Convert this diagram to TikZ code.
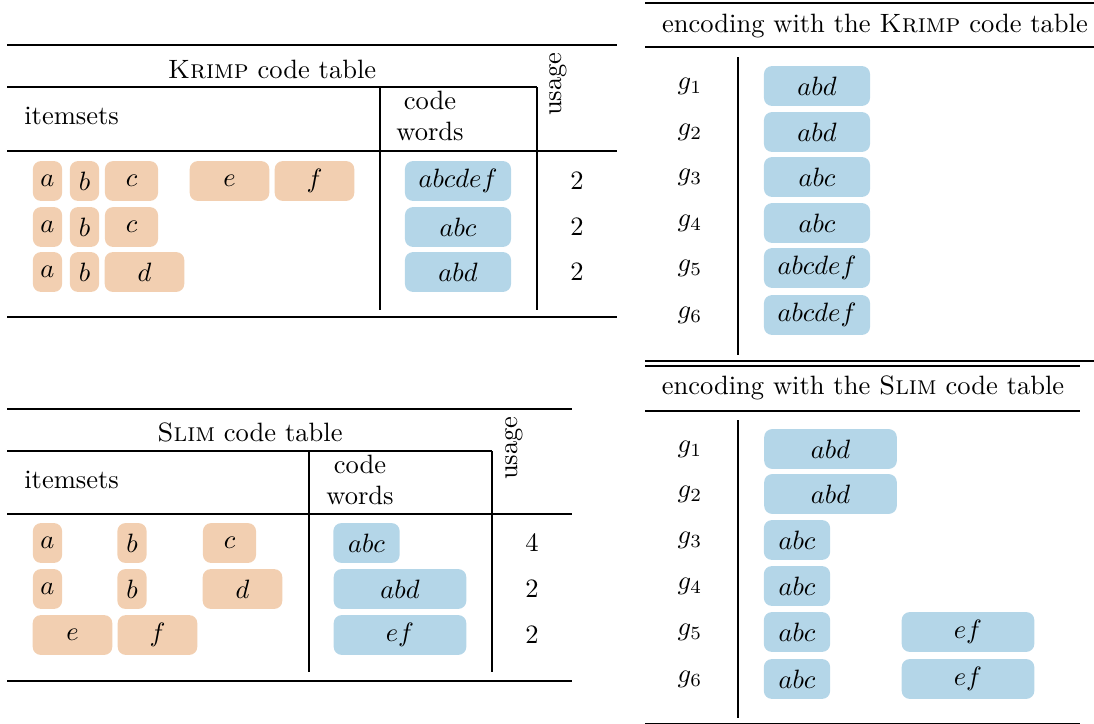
\documentclass[tikz,border=0pt]{standalone}
\usepackage{amsmath}
\usepackage{tikz}

\definecolor{itemfill}{RGB}{242,207,177}
\definecolor{codefill}{RGB}{180,214,232}

\tikzset{
  itembox/.style={fill=itemfill, rounded corners=3pt, inner sep=0pt, minimum height=15pt},
  codebox/.style={fill=codefill, rounded corners=3pt, inner sep=0pt, minimum height=15pt},
  toprule/.style={line width=0.8pt},
  midrule/.style={line width=0.5pt},
  thinrule/.style={line width=0.4pt},
}

\begin{document}
\begin{tikzpicture}[x=0.377pt,y=-0.377pt]
  \useasboundingbox (0,0) rectangle (1094,724);

  % Krimp code table
  \draw[toprule] (7,45) -- (617,45);
  \node (ktitle) at (272,69) {\textsc{Krimp} code table};
  \draw[thinrule] (7,87) -- (537,87);
  \node[rotate=90] (kusage) at (558,84) {usage};
  \node[anchor=west] (kitems) at (15,116) {itemsets};
  \node[align=center] (kwords) at (430,116) {code\\words};
  \draw[midrule] (7,151) -- (617,151);
  \draw[thinrule] (380,87) -- (380,310);
  \draw[thinrule] (537,87) -- (537,310);

  \node[itembox, minimum width=11pt] (ka1) at (47.5,181) {$a$};
  \node[itembox, minimum width=11pt] (kb1) at (84.5,181) {$b$};
  \node[itembox, minimum width=20pt] (kc1) at (131.5,181) {$c$};
  \node[itembox, minimum width=30pt] (ke1) at (229.5,181) {$e$};
  \node[itembox, minimum width=30pt] (kf1) at (314.5,181) {$f$};
  \node[itembox, minimum width=11pt] (ka2) at (47.5,227) {$a$};
  \node[itembox, minimum width=11pt] (kb2) at (84.5,227) {$b$};
  \node[itembox, minimum width=20pt] (kc2) at (131.5,227) {$c$};
  \node[itembox, minimum width=11pt] (ka3) at (47.5,272) {$a$};
  \node[itembox, minimum width=11pt] (kb3) at (84.5,272) {$b$};
  \node[itembox, minimum width=30pt] (kd3) at (144.5,272) {$d$};

  \node[codebox, minimum width=40pt] (kw1) at (458,181) {$abcdef$};
  \node[codebox, minimum width=40pt] (kw2) at (458,227) {$abc$};
  \node[codebox, minimum width=40pt] (kw3) at (458,272) {$abd$};
  \node (ku1) at (577,181) {2};
  \node (ku2) at (577,227) {2};
  \node (ku3) at (577,272) {2};
  \draw[toprule] (7,317) -- (617,317);

  % Slim code table
  \draw[toprule] (7,409) -- (572,409);
  \node (stitle) at (250,432) {\textsc{Slim} code table};
  \draw[thinrule] (7,451) -- (492,451);
  \node[rotate=90] (susage) at (514,448) {usage};
  \node[anchor=west] (sitems) at (15,480) {itemsets};
  \node[align=center] (swords) at (360,480) {code\\words};
  \draw[midrule] (7,514) -- (572,514);
  \draw[thinrule] (309,451) -- (309,672);
  \draw[thinrule] (492,451) -- (492,672);

  \node[itembox, minimum width=11pt] (sa1) at (47.5,543) {$a$};
  \node[itembox, minimum width=11pt] (sb1) at (132,543) {$b$};
  \node[itembox, minimum width=20pt] (sc1) at (229.5,543) {$c$};
  \node[itembox, minimum width=11pt] (sa2) at (47.5,589) {$a$};
  \node[itembox, minimum width=11pt] (sb2) at (132,589) {$b$};
  \node[itembox, minimum width=30pt] (sd2) at (242.5,589) {$d$};
  \node[itembox, minimum width=30pt] (se3) at (72.5,635) {$e$};
  \node[itembox, minimum width=30pt] (sf3) at (157.5,635) {$f$};

  \node[codebox, minimum width=25pt] (sw1) at (366.5,543) {$abc$};
  \node[codebox, minimum width=50pt] (sw2) at (400,589) {$abd$};
  \node[codebox, minimum width=50pt] (sw3) at (400,635) {$ef$};
  \node (su1) at (532,543) {4};
  \node (su2) at (532,589) {2};
  \node (su3) at (532,635) {2};
  \draw[toprule] (7,681) -- (572,681);

  % encoding with the Krimp code table
  \draw[toprule] (645,3) -- (1094,3);
  \node (ketitle) at (875,26) {encoding with the \textsc{Krimp} code table};
  \draw[midrule] (645,47) -- (1094,47);
  \draw[thinrule] (738,57) -- (738,355);
  \node (kg1) at (690,86) {$g_1$};
  \node (kg2) at (690,132) {$g_2$};
  \node (kg3) at (690,177) {$g_3$};
  \node (kg4) at (690,223) {$g_4$};
  \node (kg5) at (690,268) {$g_5$};
  \node (kg6) at (690,315) {$g_6$};
  \node[codebox, minimum width=40pt] (kx1) at (817,86) {$abd$};
  \node[codebox, minimum width=40pt] (kx2) at (817,132) {$abd$};
  \node[codebox, minimum width=40pt] (kx3) at (817,177) {$abc$};
  \node[codebox, minimum width=40pt] (kx4) at (817,223) {$abc$};
  \node[codebox, minimum width=40pt] (kx5) at (817,268) {$abcdef$};
  \node[codebox, minimum width=40pt] (kx6) at (817,315) {$abcdef$};
  \draw[toprule] (645,361) -- (1094,361);

  % encoding with the Slim code table
  \draw[toprule] (645,366) -- (1080,366);
  \node (setitle) at (863,388) {encoding with the \textsc{Slim} code table};
  \draw[midrule] (645,411) -- (1080,411);
  \draw[thinrule] (738,420) -- (738,718);
  \node (sg1) at (690,449) {$g_1$};
  \node (sg2) at (690,494) {$g_2$};
  \node (sg3) at (690,540) {$g_3$};
  \node (sg4) at (690,586) {$g_4$};
  \node (sg5) at (690,632) {$g_5$};
  \node (sg6) at (690,679) {$g_6$};
  \node[codebox, minimum width=50pt] (sx1) at (830.5,449) {$abd$};
  \node[codebox, minimum width=50pt] (sx2) at (830.5,494) {$abd$};
  \node[codebox, minimum width=25pt] (sx3) at (797,540) {$abc$};
  \node[codebox, minimum width=25pt] (sx4) at (797,586) {$abc$};
  \node[codebox, minimum width=25pt] (sx5) at (797,632) {$abc$};
  \node[codebox, minimum width=25pt] (sx6) at (797,679) {$abc$};
  \node[codebox, minimum width=50pt] (sy5) at (968,632) {$ef$};
  \node[codebox, minimum width=50pt] (sy6) at (968,679) {$ef$};
  \draw[toprule] (645,724) -- (1080,724);
\end{tikzpicture}
\end{document}
